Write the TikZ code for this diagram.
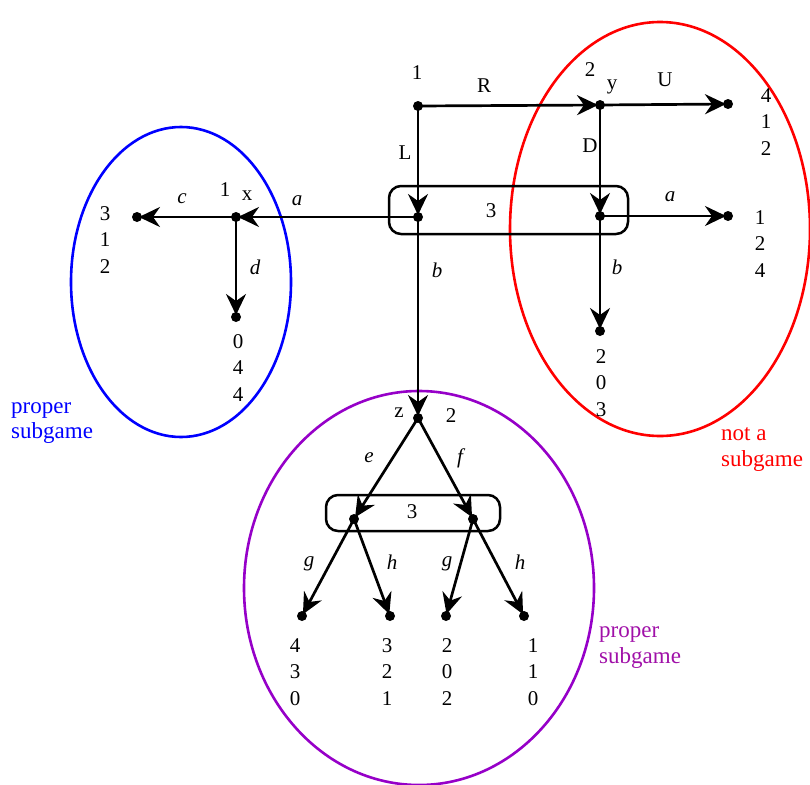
\documentclass[tikz,border=0pt]{standalone}
\usepackage{fontspec}
\setmainfont{Liberation Serif}
\usetikzlibrary{arrows.meta}
\definecolor{pur}{RGB}{150,0,200}
\definecolor{purtxt}{RGB}{160,16,168}
\begin{document}
\begin{tikzpicture}[x=1pt,y=-1pt,
  dot/.style={circle,fill=black,inner sep=0pt,minimum size=10pt},
  arr/.style={line width=2.7pt,shorten >=2pt,-{Stealth[length=21pt,width=20pt,inset=7pt]}},
  infobox/.style={line width=2.5pt,rounded corners=12pt},
  lab/.style={font=\fontsize{21}{24}\selectfont,inner sep=0pt},
  pay/.style={font=\fontsize{21}{26.5}\selectfont,align=center,inner sep=0pt},
  note/.style={font=\fontsize{23}{26}\selectfont,inner sep=0pt,anchor=base west}]
\useasboundingbox (0,0) rectangle (810,784);
% ellipses
\draw[blue,line width=2.6pt] (181,282) ellipse [x radius=110, y radius=155];
\draw[red,line width=2.6pt] (660,229) ellipse [x radius=150, y radius=207];
\draw[pur,line width=2.6pt] (419,588) ellipse [x radius=175, y radius=197];
% information sets
\draw[infobox] (389,186) rectangle (628,234);
\draw[infobox] (326,495) rectangle (500,531);
\node[lab] (i1) at (491,211) {3};
\node[lab] (i2) at (412,512) {3};
% positions
\coordinate (r) at (418,106);
\coordinate (y) at (600,105);
\coordinate (tu) at (728,104);
\coordinate (A) at (418,217);
\coordinate (B) at (600,216);
\coordinate (x) at (236,217);
\coordinate (tc) at (137,217);
\coordinate (td) at (236,317);
\coordinate (ta) at (728,216);
\coordinate (tb) at (600,331);
\coordinate (z) at (418,418);
\coordinate (E) at (354,519);
\coordinate (F) at (473,519);
\coordinate (t1) at (302,616);
\coordinate (t2) at (390,616);
\coordinate (t3) at (446,616);
\coordinate (t4) at (524,616);
% edges
\draw[arr] (r) -- (y);
\draw[arr] (r) -- (A);
\draw[arr] (y) -- (tu);
\draw[arr] (y) -- (B);
\draw[arr] (A) -- (x);
\draw[arr] (x) -- (tc);
\draw[arr] (x) -- (td);
\draw[arr] (B) -- (ta);
\draw[arr] (B) -- (tb);
\draw[arr] (A) -- (z);
\draw[arr] (z) -- (E);
\draw[arr] (z) -- (F);
\draw[arr] (E) -- (t1);
\draw[arr] (E) -- (t2);
\draw[arr] (F) -- (t3);
\draw[arr] (F) -- (t4);
% dots
\foreach \p in {r,y,tu,A,B,x,tc,td,ta,tb,z,E,F,t1,t2,t3,t4}
  \node[dot] (d\p) at (\p) {};
% player / node labels
\node[lab] (p1) at (417,73) {1};
\node[lab] (p2) at (590,70) {2};
\node[lab] (ly) at (612,87) {y};
\node[lab] (p1x) at (225,190) {1};
\node[lab] (lx) at (247,196) {x};
\node[lab] (lz) at (399,413) {z};
\node[lab] (p2z) at (451,416) {2};
% action labels
\node[lab] (aR) at (484,86) {R};
\node[lab] (aL) at (405,153) {L};
\node[lab] (aU) at (665,80) {U};
\node[lab] (aD) at (590,146) {D};
\node[lab] (aa1) at (297,201) {\itshape a};
\node[lab] (ac) at (182,199) {\itshape c};
\node[lab] (ad) at (255,267) {\itshape d};
\node[lab] (aa2) at (670,197) {\itshape a};
\node[lab] (ab2) at (617,267) {\itshape b};
\node[lab] (ab1) at (437,270) {\itshape b};
\node[lab] (ae) at (369,458) {\itshape e};
\node[lab] (af) at (460,458) {\itshape f};
\node[lab] (ag1) at (309,564) {\itshape g};
\node[lab] (ah1) at (392,562) {\itshape h};
\node[lab] (ag2) at (447,564) {\itshape g};
\node[lab] (ah2) at (520,562) {\itshape h};
% payoffs
\node[pay] (pu) at (766,122) {4\\1\\2};
\node[pay] (pc) at (105,240) {3\\1\\2};
\node[pay] (pd) at (238,368) {0\\4\\4};
\node[pay] (pa) at (760,244) {1\\2\\4};
\node[pay] (pb) at (601,383) {2\\0\\3};
\node[pay] (q1) at (295,672) {4\\3\\0};
\node[pay] (q2) at (387,672) {3\\2\\1};
\node[pay] (q3) at (447,672) {2\\0\\2};
\node[pay] (q4) at (533,672) {1\\1\\0};
% notes
\node[note,text=blue] (n1a) at (11,413) {proper};
\node[note,text=blue] (n1b) at (11,438) {subgame};
\node[note,text=red] (n2a) at (721,440) {not a};
\node[note,text=red] (n2b) at (721,466) {subgame};
\node[note,text=purtxt] (n3a) at (599,637) {proper};
\node[note,text=purtxt] (n3b) at (599,663) {subgame};
\end{tikzpicture}
\end{document}
